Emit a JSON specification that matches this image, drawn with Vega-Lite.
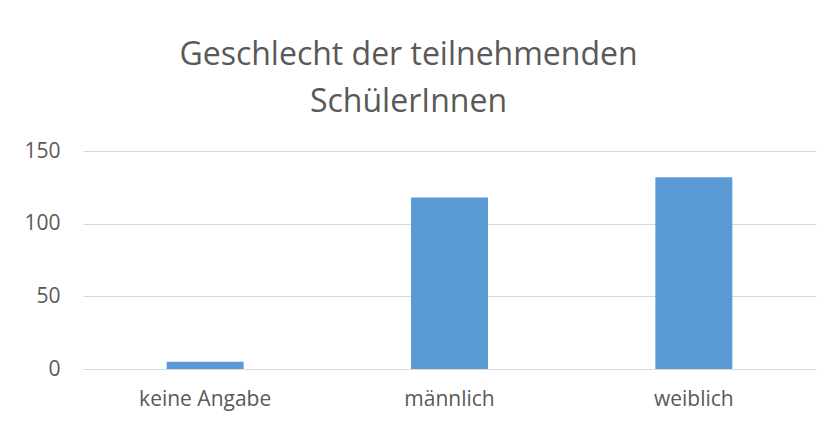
{
  "$schema": "https://vega.github.io/schema/vega-lite/v6.json",
  "autosize": "none",
  "width": 733,
  "height": 218,
  "padding": {"left": 83, "top": 151, "right": 16, "bottom": 59},
  "background": "white",
  "title": {
    "text": ["Geschlecht der teilnehmenden", "SchülerInnen"],
    "font": "Open Sans",
    "fontSize": 32,
    "fontWeight": "normal",
    "color": "#595959",
    "anchor": "middle",
    "dx": -41,
    "lineHeight": 47,
    "offset": 21
  },
  "data": {
    "values": [
      {"Geschlecht": "keine Angabe", "Anzahl": 5},
      {"Geschlecht": "männlich", "Anzahl": 118},
      {"Geschlecht": "weiblich", "Anzahl": 132}
    ]
  },
  "mark": {"type": "bar", "color": "#5b9bd5"},
  "encoding": {
    "x": {
      "field": "Geschlecht",
      "type": "nominal",
      "sort": null,
      "scale": {"paddingInner": 0.685, "paddingOuter": 0.3425},
      "axis": {
        "title": null,
        "labelAngle": 0,
        "ticks": false,
        "domain": true,
        "domainColor": "#d9d9d9",
        "domainWidth": 1,
        "labelPadding": 19,
        "labelFont": "Open Sans",
        "labelFontSize": 21,
        "labelColor": "#595959"
      }
    },
    "y": {
      "field": "Anzahl",
      "type": "quantitative",
      "scale": {"domain": [0, 150]},
      "axis": {
        "title": null,
        "values": [0, 50, 100, 150],
        "ticks": false,
        "domain": false,
        "grid": true,
        "gridColor": "#d9d9d9",
        "gridWidth": 1,
        "labelPadding": 23,
        "labelFont": "Open Sans",
        "labelFontSize": 21,
        "labelColor": "#595959"
      }
    }
  },
  "config": {"view": {"stroke": null}}
}
